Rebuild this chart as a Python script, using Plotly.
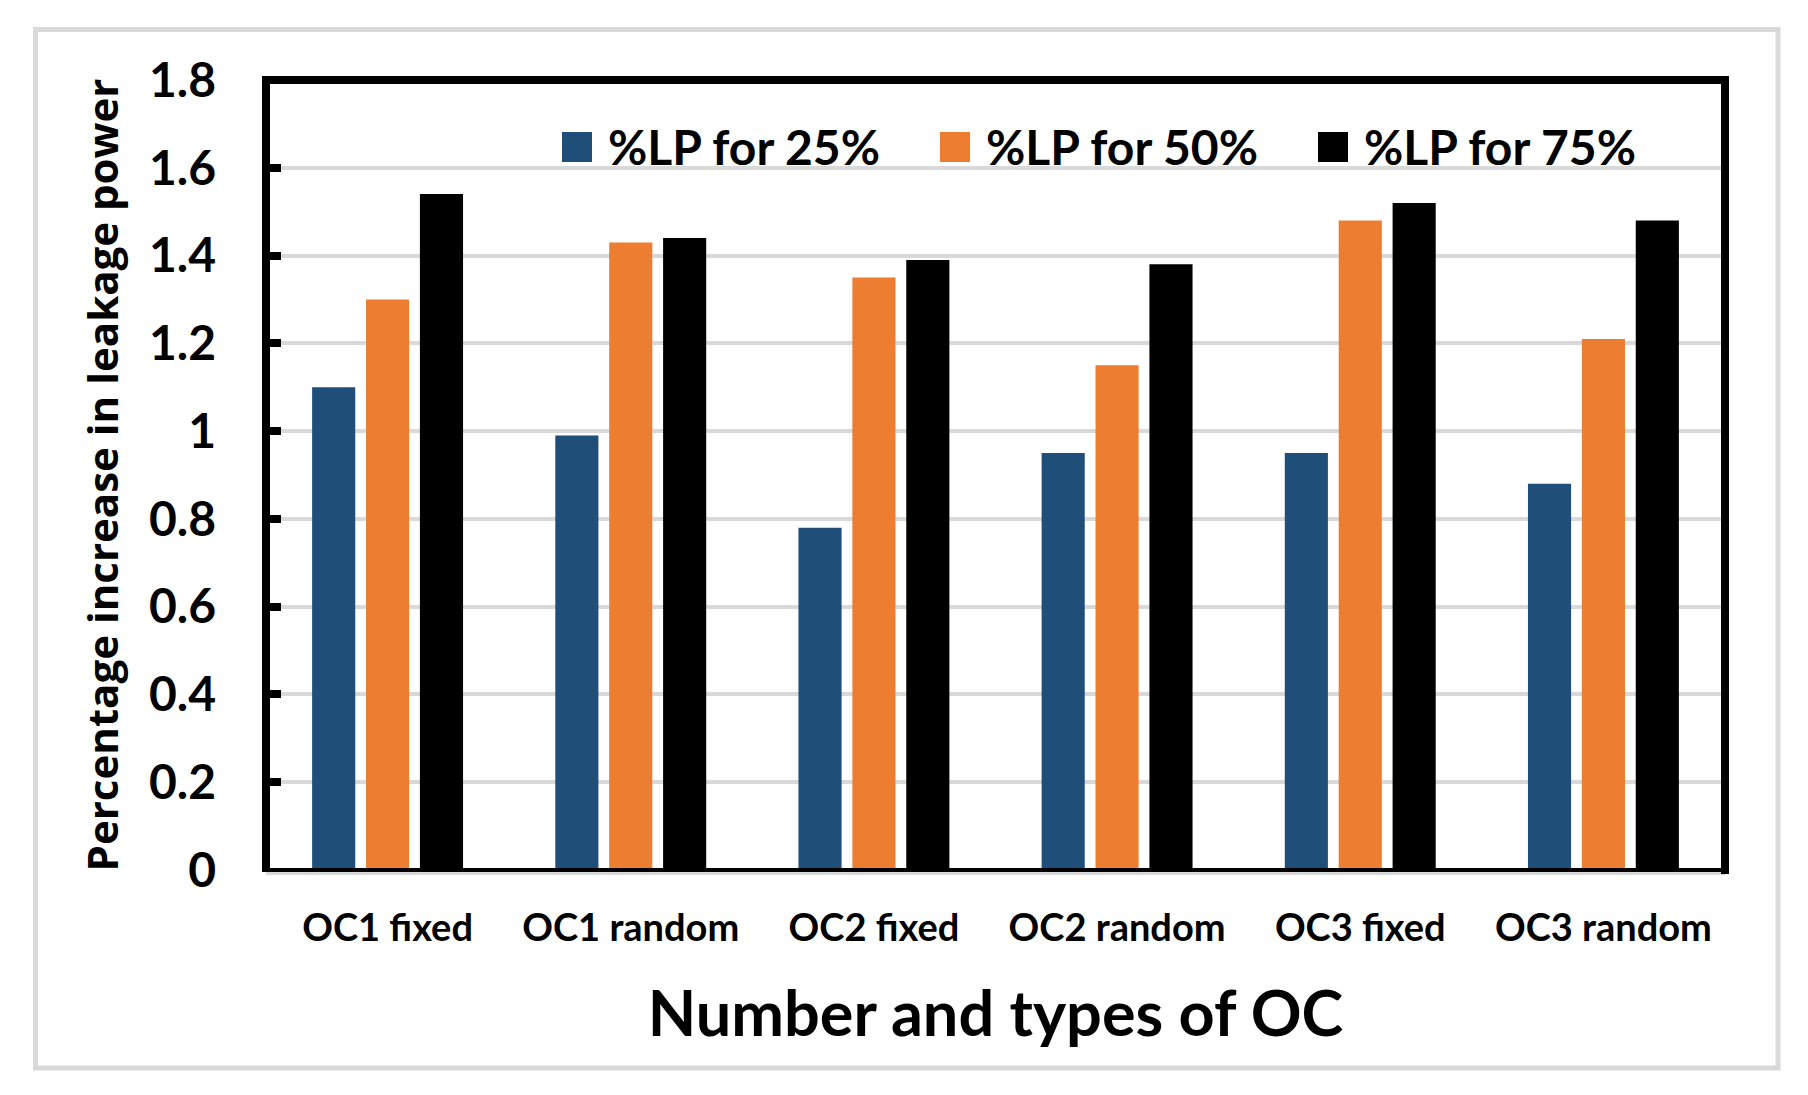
import plotly.graph_objects as go

categories = ["OC1 fixed", "OC1 random", "OC2 fixed", "OC2 random", "OC3 fixed", "OC3 random"]
series_names = ["%LP for 25%", "%LP for 50%", "%LP for 75%"]
lp25 = [1.10, 0.99, 0.78, 0.95, 0.95, 0.88]
lp50 = [1.30, 1.43, 1.35, 1.15, 1.48, 1.21]
lp75 = [1.54, 1.44, 1.39, 1.38, 1.52, 1.48]
series_values = [lp25, lp50, lp75]
colors = ["#1F4E79", "#ED7D31", "#000000"]
y_ticks = [0, 0.2, 0.4, 0.6, 0.8, 1.0, 1.2, 1.4, 1.6, 1.8]
y_tick_text = ["0", "0.2", "0.4", "0.6", "0.8", "1", "1.2", "1.4", "1.6", "1.8"]

# page coordinates (the page has an 8px body margin)
OFF = 8
W, H = 1808 - OFF, 1095 - OFF
PL, PR, PT, PB = 266, 1725, 80, 870  # plot area in page pixels


def xp(px):
    return (px - PL) / (PR - PL)


def yp(py):
    return (PB - py) / (PB - PT)


fig = go.Figure()
for name, vals, col in zip(series_names, series_values, colors):
    fig.add_trace(go.Bar(x=categories, y=vals, name=name, marker=dict(color=col, line=dict(width=0)),
                         showlegend=False))

fig.update_layout(
    width=W, height=H,
    margin=dict(l=PL - OFF, r=1808 - PR, t=PT - OFF, b=1095 - PB, pad=0),
    paper_bgcolor="white", plot_bgcolor="white",
    barmode="group", bargap=0.335, bargroupgap=0.2,
    xaxis=dict(
        showline=False, showgrid=False, ticks="",
        tickfont=dict(family="Lato", size=38, color="black", weight=700),
        ticklabelstandoff=32,
        title=dict(text="Number and types of OC", font=dict(family="Lato", size=63, color="black", weight=700),
                   standoff=43),
    ),
    yaxis=dict(
        range=[0, 1.8], tickvals=y_ticks, ticktext=y_tick_text,
        showline=False,
        ticks="inside", ticklen=15, tickwidth=8, tickcolor="black",
        showgrid=True, gridcolor="#d9d9d9", gridwidth=4, zeroline=False,
        tickfont=dict(family="Lato", size=48, color="black", weight=700), ticklabelstandoff=49,
        title=dict(text="Percentage increase in leakage power",
                   font=dict(family="Open Sans", size=42, color="black", weight=700), standoff=17),
    ),
)

ex = 4 / (PR - PL)
ey = 4 / (PB - PT)
shapes = [
    # gray line just under the category axis
    dict(type="line", xref="paper", yref="paper", x0=0, x1=1, y0=yp(873.5), y1=yp(873.5),
         line=dict(color="#d9d9d9", width=3)),
    # category axis line
    dict(type="line", xref="paper", yref="paper", x0=0, x1=1, y0=0, y1=0,
         line=dict(color="black", width=4)),
    # left, right, top borders of plot area
    dict(type="line", xref="paper", yref="paper", x0=0, x1=0, y0=-ey / 2, y1=1 + ey,
         line=dict(color="black", width=8)),
    dict(type="line", xref="paper", yref="paper", x0=1, x1=1, y0=-ey, y1=1 + ey,
         line=dict(color="black", width=8)),
    dict(type="line", xref="paper", yref="paper", x0=-ex, x1=1 + ex, y0=1, y1=1,
         line=dict(color="black", width=8)),
    # outer chart border
    dict(type="rect", xref="paper", yref="paper", x0=xp(35.5), x1=xp(1778), y0=yp(29.5), y1=yp(1068),
         line=dict(color="#d9d9d9", width=5), layer="below"),
]
annotations = []
for i, (name, col) in enumerate(zip(series_names, colors)):
    mx = 562 + 378 * i
    shapes.append(dict(type="rect", xref="paper", yref="paper", x0=xp(mx), x1=xp(mx + 30),
                       y0=yp(162), y1=yp(132), fillcolor=col, line=dict(width=0)))
    annotations.append(dict(xref="paper", yref="paper", x=xp(mx + 44), y=yp(146), text=name,
                            showarrow=False, xanchor="left", yanchor="middle",
                            font=dict(family="Lato", size=48, color="black", weight=700)))
fig.update_layout(shapes=shapes, annotations=annotations)

fig.write_html("out.html")
